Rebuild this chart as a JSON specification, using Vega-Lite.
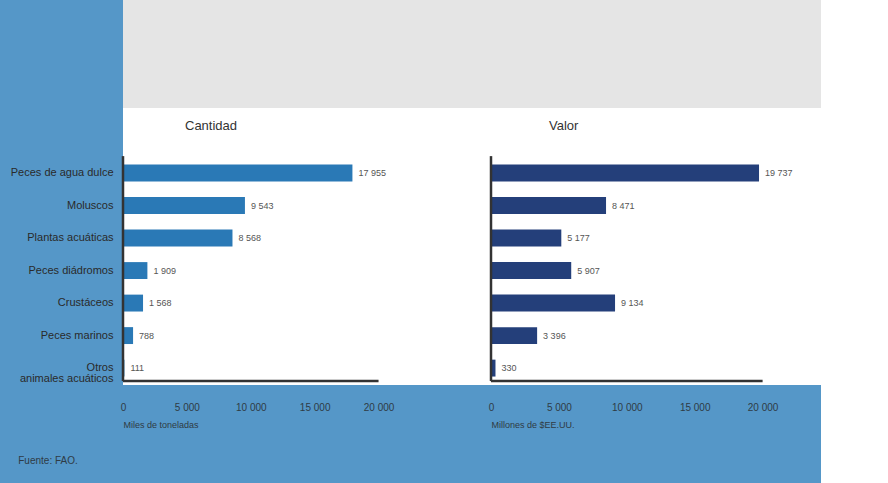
{
  "$schema": "https://vega.github.io/schema/vega-lite/v6.json",
  "background": "#5597c8",
  "padding": {"left": 10, "top": 0, "right": 0, "bottom": 26},
  "data": {
    "values": [
      {"grupo": "Peces de agua dulce", "cantidad": 17955, "valor": 19737},
      {"grupo": "Moluscos", "cantidad": 9543, "valor": 8471},
      {"grupo": "Plantas acuáticas", "cantidad": 8568, "valor": 5177},
      {"grupo": "Peces diádromos", "cantidad": 1909, "valor": 5907},
      {"grupo": "Crustáceos", "cantidad": 1568, "valor": 9134},
      {"grupo": "Peces marinos", "cantidad": 788, "valor": 3396},
      {"grupo": "Otros animales acuáticos", "cantidad": 111, "valor": 330}
    ]
  },
  "title": {"text": "Fuente: FAO.", "orient": "bottom", "anchor": "start", "offset": 27, "fontSize": 10, "fontWeight": "normal", "color": "#2f3b45", "dx": 8},
  "spacing": 0,
  "vconcat": [
    {
      "width": 698,
      "height": 108,
      "view": {"fill": "#e5e5e5", "stroke": null},
      "data": {"values": []},
      "mark": "rule",
      "encoding": {}
    },
    {
      "spacing": -3,
      "hconcat": [
        {
          "width": 368,
          "height": 277,
          "view": {"fill": "#ffffff", "stroke": null},
          "title": {"text": "Cantidad", "frame": "group", "anchor": "start", "dx": 62, "offset": -31, "baseline": "middle", "fontSize": 13, "fontWeight": "normal", "color": "#333333"},
          "layer": [
            {
              "mark": {"type": "bar", "color": "#2a79b6"},
              "encoding": {
                "y": {
                  "field": "grupo", "type": "nominal", "sort": null,
                  "scale": {"domain": ["Peces de agua dulce", "Moluscos", "Plantas acuáticas", "Peces diádromos", "Crustáceos", "Peces marinos", "Otros animales acuáticos"], "paddingInner": 0.48, "paddingOuter": 1.0, "align": 0.87},
                  "axis": {"title": null, "domain": false, "ticks": false, "labelPadding": 10, "labelFontSize": 11, "labelColor": "#2a2a2a", "labelLimit": 200, "labelLineHeight": 11, "labelExpr": "datum.value == 'Otros animales acuáticos' ? ['Otros', 'animales acuáticos'] : datum.value"}
                },
                "x": {
                  "field": "cantidad", "type": "quantitative",
                  "scale": {"domain": [0, 28800], "nice": false},
                  "axis": {"values": [0, 5000, 10000, 15000, 20000], "format": ",d", "domain": false, "ticks": false, "grid": false, "labelFlush": false, "labelPadding": 17, "labelFontSize": 10, "labelColor": "#2f3b45", "title": "Miles de toneladas", "titleFontSize": 9, "titleFontWeight": "normal", "titleAnchor": "start", "titleAlign": "left", "titlePadding": 8, "titleColor": "#2f3b45"}
                }
              }
            },
            {
              "mark": {"type": "text", "align": "left", "dx": 6, "fontSize": 9, "color": "#555555"},
              "encoding": {
                "y": {"field": "grupo", "type": "nominal", "sort": null},
                "x": {"field": "cantidad", "type": "quantitative"},
                "text": {"field": "cantidad", "type": "quantitative", "format": ",d"}
              }
            },
            {
              "data": {"values": [{"desde": 0, "hasta": 20000, "base": "Otros animales acuáticos"}]},
              "mark": {"type": "rule", "color": "#333333", "strokeWidth": 2.5},
              "encoding": {
                "x": {"field": "desde", "type": "quantitative"},
                "x2": {"field": "hasta"},
                "y": {"field": "base", "type": "nominal", "bandPosition": 1.27}
              }
            },
            {
              "data": {"values": [{"cero": 0, "primero": "Peces de agua dulce", "ultimo": "Otros animales acuáticos"}]},
              "mark": {"type": "rule", "color": "#333333", "strokeWidth": 2.5},
              "encoding": {
                "x": {"field": "cero", "type": "quantitative"},
                "y": {"field": "primero", "type": "nominal", "bandPosition": -0.5},
                "y2": {"field": "ultimo", "bandPosition": 1.27}
              }
            }
          ]
        },
        {
          "width": 330,
          "height": 277,
          "view": {"fill": "#ffffff", "stroke": null},
          "title": {"text": "Valor", "frame": "group", "anchor": "start", "dx": 58, "offset": -31, "baseline": "middle", "fontSize": 13, "fontWeight": "normal", "color": "#333333"},
          "layer": [
            {
              "mark": {"type": "bar", "color": "#243f7a"},
              "encoding": {
                "y": {
                  "field": "grupo", "type": "nominal", "sort": null,
                  "scale": {"domain": ["Peces de agua dulce", "Moluscos", "Plantas acuáticas", "Peces diádromos", "Crustáceos", "Peces marinos", "Otros animales acuáticos"], "paddingInner": 0.48, "paddingOuter": 1.0, "align": 0.87},
                  "axis": null
                },
                "x": {
                  "field": "valor", "type": "quantitative",
                  "scale": {"domain": [0, 24300], "nice": false},
                  "axis": {"values": [0, 5000, 10000, 15000, 20000], "format": ",d", "domain": false, "ticks": false, "grid": false, "labelFlush": false, "labelPadding": 17, "labelFontSize": 10, "labelColor": "#2f3b45", "title": "Millones de $EE.UU.", "titleFontSize": 9, "titleFontWeight": "normal", "titleAnchor": "start", "titleAlign": "left", "titlePadding": 8, "titleColor": "#2f3b45"}
                }
              }
            },
            {
              "mark": {"type": "text", "align": "left", "dx": 6, "fontSize": 9, "color": "#555555"},
              "encoding": {
                "y": {"field": "grupo", "type": "nominal", "sort": null},
                "x": {"field": "valor", "type": "quantitative"},
                "text": {"field": "valor", "type": "quantitative", "format": ",d"}
              }
            },
            {
              "data": {"values": [{"desde": 0, "hasta": 20000, "base": "Otros animales acuáticos"}]},
              "mark": {"type": "rule", "color": "#333333", "strokeWidth": 2.5},
              "encoding": {
                "x": {"field": "desde", "type": "quantitative"},
                "x2": {"field": "hasta"},
                "y": {"field": "base", "type": "nominal", "bandPosition": 1.27}
              }
            },
            {
              "data": {"values": [{"cero": 0, "primero": "Peces de agua dulce", "ultimo": "Otros animales acuáticos"}]},
              "mark": {"type": "rule", "color": "#333333", "strokeWidth": 2.5},
              "encoding": {
                "x": {"field": "cero", "type": "quantitative"},
                "y": {"field": "primero", "type": "nominal", "bandPosition": -0.5},
                "y2": {"field": "ultimo", "bandPosition": 1.27}
              }
            }
          ]
        }
      ]
    }
  ],
  "config": {
    "locale": {"number": {"decimal": ",", "thousands": " ", "grouping": [3], "currency": ["", " $"]}},
    "font": "Liberation Sans",
    "view": {"stroke": null}
  }
}
